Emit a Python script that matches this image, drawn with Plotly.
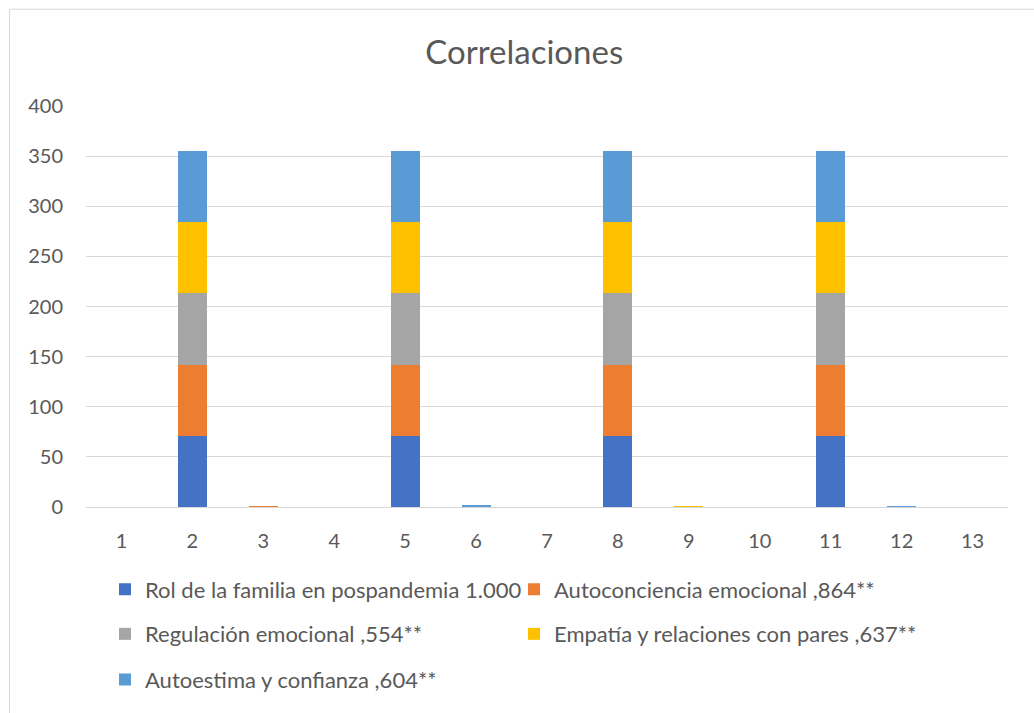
import plotly.graph_objects as go

categories = [str(i) for i in range(1, 14)]

series_names = [
    "Rol de la familia en pospandemia 1.000",
    "Autoconciencia emocional ,864**",
    "Regulación emocional ,554**",
    "Empatía y relaciones con pares ,637**",
    "Autoestima y confianza ,604**",
]

rol_familia = [0, 71, 0, 0, 71, 0, 0, 71, 0, 0, 71, 0, 0]
autoconciencia = [0, 71, 0.864, 0, 71, 0, 0, 71, 0, 0, 71, 0, 0]
regulacion = [0, 71, 0, 0, 71, 0.554, 0, 71, 0, 0, 71, 0, 0]
empatia = [0, 71, 0, 0, 71, 0, 0, 71, 0.637, 0, 71, 0, 0]
autoestima = [0, 71, 0, 0, 71, 0.604, 0, 71, 0, 0, 71, 0.604, 0]

series_values = [rol_familia, autoconciencia, regulacion, empatia, autoestima]
colors = ["#4472C4", "#ED7D31", "#A5A5A5", "#FFC000", "#5B9BD5"]
y_ticks = [0, 50, 100, 150, 200, 250, 300, 350, 400]

FONT = "Lato"
TEXT = "#595959"
GRID = "#D9D9D9"

# plot area in pixels (for placing the legend rows and the frame)
W, H = 1034, 713
L, R, T, B = 86, 26, 106, 203
pw, ph = W - L - R, H - T - B

def px_x(x):
    return (x - L) / pw

def px_y(y):
    return (H - B - y) / ph

legend_ids = ["legend", "legend2", "legend3", "legend4", "legend5"]
# legend rows: two columns, three rows
legend_pos = [(119, 593), (528, 593), (119, 638), (528, 638), (119, 684)]

fig = go.Figure()
for name, vals, col, lid in zip(series_names, series_values, colors, legend_ids):
    fig.add_trace(go.Bar(
        x=categories, y=vals, name=name,
        marker=dict(color=col, line=dict(width=0)),
        legend=lid,
    ))

layout_legends = {}
for lid, (lx, ly) in zip(legend_ids, legend_pos):
    layout_legends[lid] = dict(
        x=px_x(lx - 14), y=px_y(ly), xanchor="left", yanchor="middle",
        orientation="h", bgcolor="rgba(0,0,0,0)",
        font=dict(family=FONT, size=22, color=TEXT),
        itemclick=False, itemdoubleclick=False,
    )

fig.update_layout(
    width=W, height=H,
    template="none",
    barmode="stack",
    bargap=0.59,
    paper_bgcolor="white",
    plot_bgcolor="white",
    margin=dict(l=L, r=R, t=T, b=B, pad=0),
    title=dict(text="Correlaciones", x=0.507, xanchor="center", y=1 - 52 / H, yanchor="middle",
               font=dict(family=FONT, size=33, color=TEXT)),
    xaxis=dict(
        type="category", showgrid=False, showline=False, ticks="",
        tickfont=dict(family=FONT, size=20, color=TEXT), ticklabelstandoff=20,
    ),
    yaxis=dict(
        range=[0, 400], tickvals=y_ticks, showgrid=True, gridcolor=GRID, gridwidth=1,
        zeroline=True, zerolinecolor=GRID, zerolinewidth=1, showline=False, ticks="",
        tickfont=dict(family=FONT, size=20, color=TEXT), ticklabelstandoff=22,
    ),
    showlegend=True,
    shapes=[dict(
        type="rect", xref="paper", yref="paper",
        x0=px_x(9.5), x1=px_x(1100), y0=px_y(800), y1=px_y(8.5),
        line=dict(color=GRID, width=1), fillcolor="rgba(0,0,0,0)", layer="below",
    )],
    **layout_legends,
)

fig.write_html("out.html")
